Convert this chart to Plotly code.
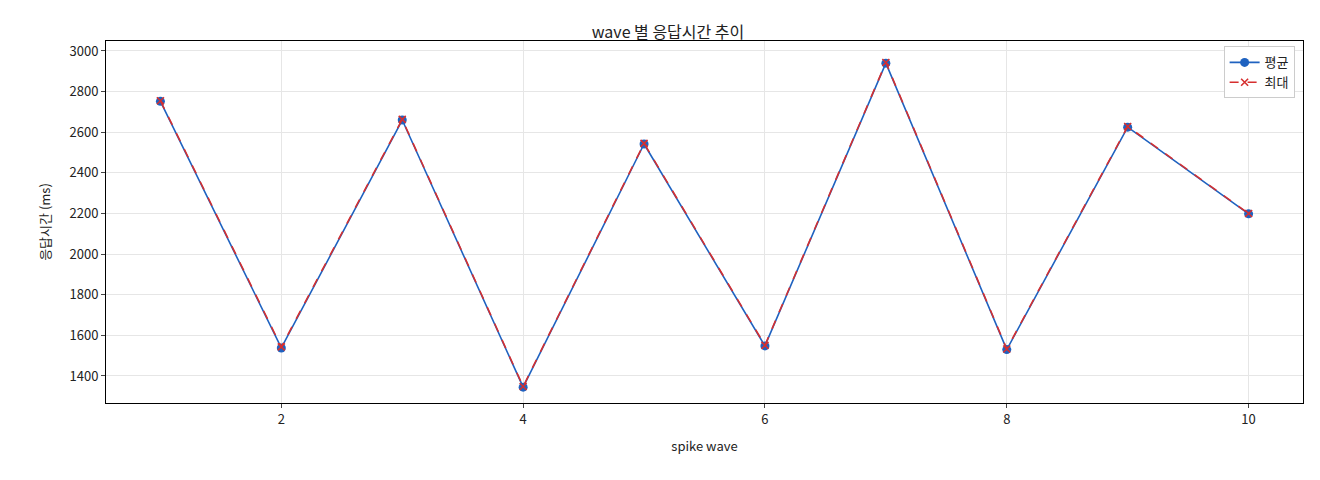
import plotly.graph_objects as go

waves = [1, 2, 3, 4, 5, 6, 7, 8, 9, 10]
avg_ms = [2752, 1538, 2660, 1345, 2542, 1548, 2940, 1530, 2625, 2198]
max_ms = [2755, 1543, 2663, 1348, 2545, 1551, 2943, 1533, 2628, 2200]

font = "Noto Sans CJK KR"
fig = go.Figure()
fig.add_trace(go.Scatter(x=waves, y=avg_ms, name="평균", mode="lines+markers",
                         line=dict(color="#1f62c0", width=1.6),
                         marker=dict(size=9, color="#1f62c0")))
fig.add_trace(go.Scatter(x=waves, y=max_ms, name="최대", mode="lines+markers",
                         line=dict(color="#d62f2f", width=1.6, dash="dash"),
                         marker=dict(size=7, color="#d62f2f", symbol="x-thin",
                                     line=dict(width=1.6, color="#d62f2f"))))

axis = dict(showline=True, linecolor="black", mirror=True, ticks="outside",
            ticklen=4, gridcolor="#e6e6e6", zeroline=False,
            tickfont=dict(size=13, color="#222"))
fig.update_layout(
    width=1320, height=480, plot_bgcolor="white", paper_bgcolor="white",
    font=dict(family=font, size=13, color="#222"),
    title=dict(text="wave 별 응답시간 추이", x=0.5, y=0.96, xanchor="center",
               font=dict(size=16)),
    margin=dict(l=98, r=25, t=33, b=85),
    xaxis=dict(axis, range=[0.55, 10.45], dtick=2, tick0=0,
               title=dict(text="spike wave", font=dict(size=13))),
    yaxis=dict(axis, range=[1267, 3049], dtick=200,
               title=dict(text="응답시간 (ms)", font=dict(size=13))),
    legend=dict(x=0.993, y=0.985, xanchor="right", yanchor="top",
                bordercolor="#cccccc", borderwidth=1, bgcolor="white",
                font=dict(size=13)),
)
fig.write_html("out.html")
